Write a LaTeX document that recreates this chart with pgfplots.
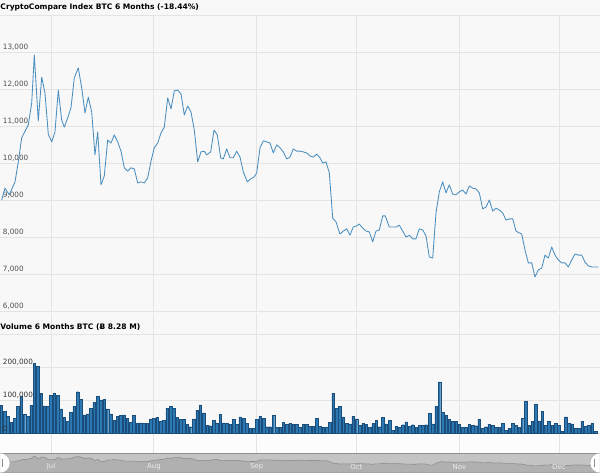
\documentclass[border=0pt]{standalone}
\usepackage{fontspec}
\setmainfont{DejaVu Sans}
\usepackage{pgfplots}
\pgfplotsset{compat=1.18}
\usepackage{pgfplotstable}

\definecolor{bg}{HTML}{F8F8F8}
\definecolor{gridc}{HTML}{E4E4E4}
\definecolor{linec}{HTML}{4A8EC0}
\definecolor{barfill}{HTML}{2B78B2}
\definecolor{baredge}{HTML}{1B4E7A}
\definecolor{navbg}{HTML}{C4C4C4}
\definecolor{navfill}{HTML}{B0B0B0}
\definecolor{navline}{HTML}{8E8E8E}
\definecolor{tickc}{HTML}{505050}

\pgfplotstableread{
day price
-14.85 9000
-13.86 9320
-12.56 9140
-10.84 9490
-9.85 10030
-8.83 10680
-6.84 11030
-5.81 11620
-5.03 12920
-3.83 11140
-2.80 12320
-1.81 11890
-0.81 10780
0.21 10570
1.20 10840
2.20 11970
3.22 11160
4.01 10970
5.03 11220
6.02 11490
7.02 12300
8.22 12570
9.25 12030
10.24 11350
11.23 11780
12.26 11380
13.25 10220
14.07 10840
15.06 9410
16.05 9650
17.08 10620
18.07 10540
19.07 10760
20.09 10570
21.08 10320
22.08 9870
23.10 9780
24.10 9870
25.09 9840
26.11 9460
27.11 9490
28.10 9460
29.13 9600
30.12 10050
31.11 10410
32.14 10540
33.13 10810
34.13 10970
35.15 11760
36.14 11460
37.14 11950
38.16 11970
39.16 11870
40.15 11300
41.17 11540
42.17 11380
43.16 10890
44.19 10030
45.18 10300
46.17 10320
46.90 10220
48.10 10300
49.10 10890
50.09 10760
51.11 10140
51.90 10110
52.92 10380
53.92 10140
54.91 10140
55.93 10320
56.93 10160
57.92 9760
59.13 9490
60.15 9570
61.14 9620
61.96 9730
62.95 10410
63.95 10600
64.97 10570
65.96 10540
66.96 10270
67.98 10490
68.98 10410
69.97 10300
70.99 10110
71.99 10160
72.98 10380
74.01 10320
75.00 10320
75.99 10300
77.02 10270
78.01 10190
79.01 10160
80.03 10240
81.02 10140
81.84 10000
82.83 10030
83.83 9730
84.85 8510
85.84 8410
87.05 8080
88.04 8160
89.07 8220
90.06 8050
91.05 8270
92.08 8300
92.86 8350
93.89 8240
94.88 8160
95.87 8140
96.90 7870
97.89 8160
98.89 8190
99.91 8570
100.69 8570
101.90 8270
102.92 8270
103.92 8270
104.91 8320
105.93 8160
106.93 8000
107.92 8050
108.95 7950
109.94 7950
110.93 8220
111.96 8190
112.95 8030
113.95 7460
114.97 7430
115.96 8650
116.96 9220
117.98 9490
118.98 9190
119.97 9410
120.99 9160
121.99 9140
122.98 9220
124.01 9270
125.00 9160
125.99 9380
127.02 9320
128.01 9300
129.01 9190
130.03 8760
131.02 8810
132.02 9000
133.04 8700
134.04 8780
135.03 8730
136.05 8650
137.05 8460
138.04 8490
139.07 8490
140.06 8160
141.06 8110
141.78 8080
142.77 7650
143.77 7300
144.79 7300
145.78 6920
146.78 7110
147.80 7160
148.80 7510
149.79 7430
150.81 7730
151.81 7510
152.80 7380
153.83 7300
154.82 7300
155.81 7190
156.84 7380
157.83 7540
158.83 7510
159.85 7510
160.84 7320
161.84 7220
162.86 7190
163.86 7190
164.85 7190
}\pricedata

\pgfplotstableread[row sep=\\]{
day vol\\
-15 84000\\ -14 65000\\ -13 51000\\ -12 32000\\ -11 44000\\ -10 80000\\ -9 110000\\ -8 57000\\ -7 51000\\ -6 84000\\
-5 211000\\ -4 203000\\ -3 120000\\ -2 82000\\ -1 80000\\ 0 114000\\ 1 120000\\ 2 114000\\ 3 73000\\ 4 47000\\
5 36000\\ 6 63000\\ 7 80000\\ 8 125000\\ 9 103000\\ 10 55000\\ 11 58000\\ 12 75000\\ 13 92000\\ 14 112000\\
15 100000\\ 16 102000\\ 17 73000\\ 18 58000\\ 19 39000\\ 20 51000\\ 21 53000\\ 22 55000\\ 23 44000\\ 24 33000\\
25 53000\\ 26 29000\\ 27 31000\\ 28 29000\\ 29 29000\\ 30 43000\\ 31 44000\\ 32 47000\\ 33 36000\\ 34 39000\\
35 75000\\ 36 80000\\ 37 75000\\ 38 47000\\ 39 41000\\ 40 41000\\ 41 26000\\ 42 19000\\ 43 43000\\ 44 69000\\
45 85000\\ 46 61000\\ 47 24000\\ 48 22000\\ 49 39000\\ 50 31000\\ 51 57000\\ 52 31000\\ 53 29000\\ 54 27000\\
55 42000\\ 56 26000\\ 57 49000\\ 58 44000\\ 59 29000\\ 60 14000\\ 61 14000\\ 62 42000\\ 63 51000\\ 64 44000\\
65 19000\\ 66 19000\\ 67 53000\\ 68 18000\\ 69 18000\\ 70 32000\\ 71 27000\\ 72 29000\\ 73 26000\\ 74 26000\\
75 16000\\ 76 26000\\ 77 27000\\ 78 21000\\ 79 21000\\ 80 45000\\ 81 20000\\ 82 18000\\ 83 18000\\ 84 32000\\
85 121000\\ 86 74000\\ 87 80000\\ 88 49000\\ 89 29000\\ 90 28000\\ 91 50000\\ 92 43000\\ 93 23000\\ 94 30000\\
95 27000\\ 96 16000\\ 97 30000\\ 98 38000\\ 99 19000\\ 100 47000\\ 101 28000\\ 102 38000\\ 103 8000\\ 104 20000\\
105 18000\\ 106 25000\\ 107 34000\\ 108 20000\\ 109 25000\\ 110 18000\\ 111 23000\\ 112 23000\\ 113 25000\\ 114 60000\\
115 28000\\ 116 80000\\ 117 155000\\ 118 63000\\ 119 55000\\ 120 41000\\ 121 35000\\ 122 35000\\ 123 27000\\ 124 16000\\
125 16000\\ 126 27000\\ 127 24000\\ 128 22000\\ 129 41000\\ 130 15000\\ 131 19000\\ 132 27000\\ 133 23000\\ 134 18000\\
135 18000\\ 136 30000\\ 137 9000\\ 138 14000\\ 139 30000\\ 140 24000\\ 141 18000\\ 142 44000\\ 143 95000\\ 144 24000\\
145 35000\\ 146 87000\\ 147 37000\\ 148 66000\\ 149 24000\\ 150 36000\\ 151 24000\\ 152 30000\\ 153 23000\\ 154 6000\\
155 49000\\ 156 30000\\ 157 28000\\ 158 14000\\ 159 14000\\ 160 35000\\ 161 21000\\ 162 24000\\ 163 29000\\ 164 6000\\
}\voldata

\pgfplotsset{
  common/.style={
    scale only axis, width=600bp,
    xmin=-15.36, xmax=165.36,
    axis line style={draw=none},
    major tick length=0pt,
    xtick={0,31,62,92,123,153},
    scaled y ticks=false,
    yticklabel style={anchor=south west, inner sep=0pt, xshift=2.7bp, yshift=1.2bp,
      font=\fontsize{7.3}{8}\selectfont, text=tickc},
  },
  gridded/.style={grid=major, grid style={gridc, line width=0.9bp}, xticklabels={}, yticklabels={}},
}

\begin{document}
\begin{tikzpicture}
\useasboundingbox (0bp,0bp) rectangle (600bp,473bp);
\fill[bg] (0bp,0bp) rectangle (600bp,473bp);
\fill[white!60!bg] (0bp,20bp) rectangle (600bp,40bp);

% price panel
\begin{axis}[common,
  at={(0bp,162bp)}, anchor=south west, height=296bp,
  ymin=6000, ymax=14000,
  grid=major, grid style={gridc, line width=0.9bp}, xticklabels={},
  ytick={6000,7000,8000,9000,10000,11000,12000,13000},
  yticklabels={{6,000},{7,000},{8,000},{9,000},{10,000},{11,000},{12,000},{13,000}},
  extra y ticks={14000}, extra y tick labels={},
]
\addplot[linec, line width=0.85bp, line join=round, mark=none] table[x=day,y=price] {\pricedata};
\end{axis}

\node[anchor=west, inner sep=0pt, font=\bfseries\fontsize{7.6}{9}\selectfont] at (0.3bp,465.7bp) {CryptoCompare Index BTC 6 Months (-18.44\%)};

% volume panel: grid and bars
\begin{axis}[common, gridded,
  at={(0bp,20bp)}, anchor=south west, height=140bp,
  ymin=-60600, ymax=363600,
  ytick={0,100000,200000,300000},
]
\addplot[ybar, bar width=0.78, fill=barfill, draw=baredge, line width=0.45bp] table[x=day,y=vol] {\voldata};
\end{axis}
% volume panel: tick labels over the bars
\begin{axis}[common,
  at={(0bp,20bp)}, anchor=south west, height=140bp,
  ymin=-60600, ymax=363600,
  xticklabels={},
  ytick={0,100000,200000},
  yticklabels={0,{100,000},{200,000}},
  yticklabel style={text=black!80},
]
\end{axis}

\node[anchor=west, inner sep=0pt, font=\bfseries\fontsize{7.6}{9}\selectfont] at (0.3bp,146.3bp) {Volume 6 Months BTC (Ƀ 8.28 M)};

% navigator
\begin{axis}[
  scale only axis, width=600bp, height=20bp,
  at={(0bp,0bp)}, anchor=south west,
  xmin=-15.36, xmax=165.36,
  ymin=2700, ymax=14700,
  axis line style={draw=none},
  major tick length=0pt,
  axis background/.style={fill=navbg},
  ytick=\empty, xtick=\empty,
]
\addplot[navline, fill=navfill, line width=0.6bp, mark=none] table[x=day,y=price] {\pricedata} \closedcycle;
\end{axis}
\begin{axis}[
  scale only axis, width=600bp, height=20bp,
  at={(0bp,0bp)}, anchor=south west,
  xmin=-15.36, xmax=165.36,
  ymin=2700, ymax=14700,
  axis line style={draw=none},
  major tick length=0pt,
  ytick=\empty,
  xtick={0,31,62,92,123,153},
  xticklabels={Jul,Aug,Sep,Oct,Nov,Dec},
  xticklabel style={anchor=center, yshift=6bp, inner sep=0pt,
     font=\fontsize{7}{8}\selectfont, text=white!92!black},
]
\end{axis}
\draw[navline, line width=0.8bp] (0bp,20bp) -- (600bp,20bp);
\filldraw[fill=white, draw=black!30, line width=0.5bp] (0bp,0bp) -- (0bp,20bp) arc[start angle=90, end angle=-90, radius=10bp] -- cycle;
\fill[black!45] (1.6bp,6bp) rectangle (2.6bp,14bp);
\filldraw[fill=white, draw=black!30, line width=0.5bp] (600bp,0bp) -- (600bp,20bp) arc[start angle=90, end angle=270, radius=10bp] -- cycle;
\fill[black!45] (594bp,6bp) rectangle (595bp,14bp);
\end{tikzpicture}
\end{document}
